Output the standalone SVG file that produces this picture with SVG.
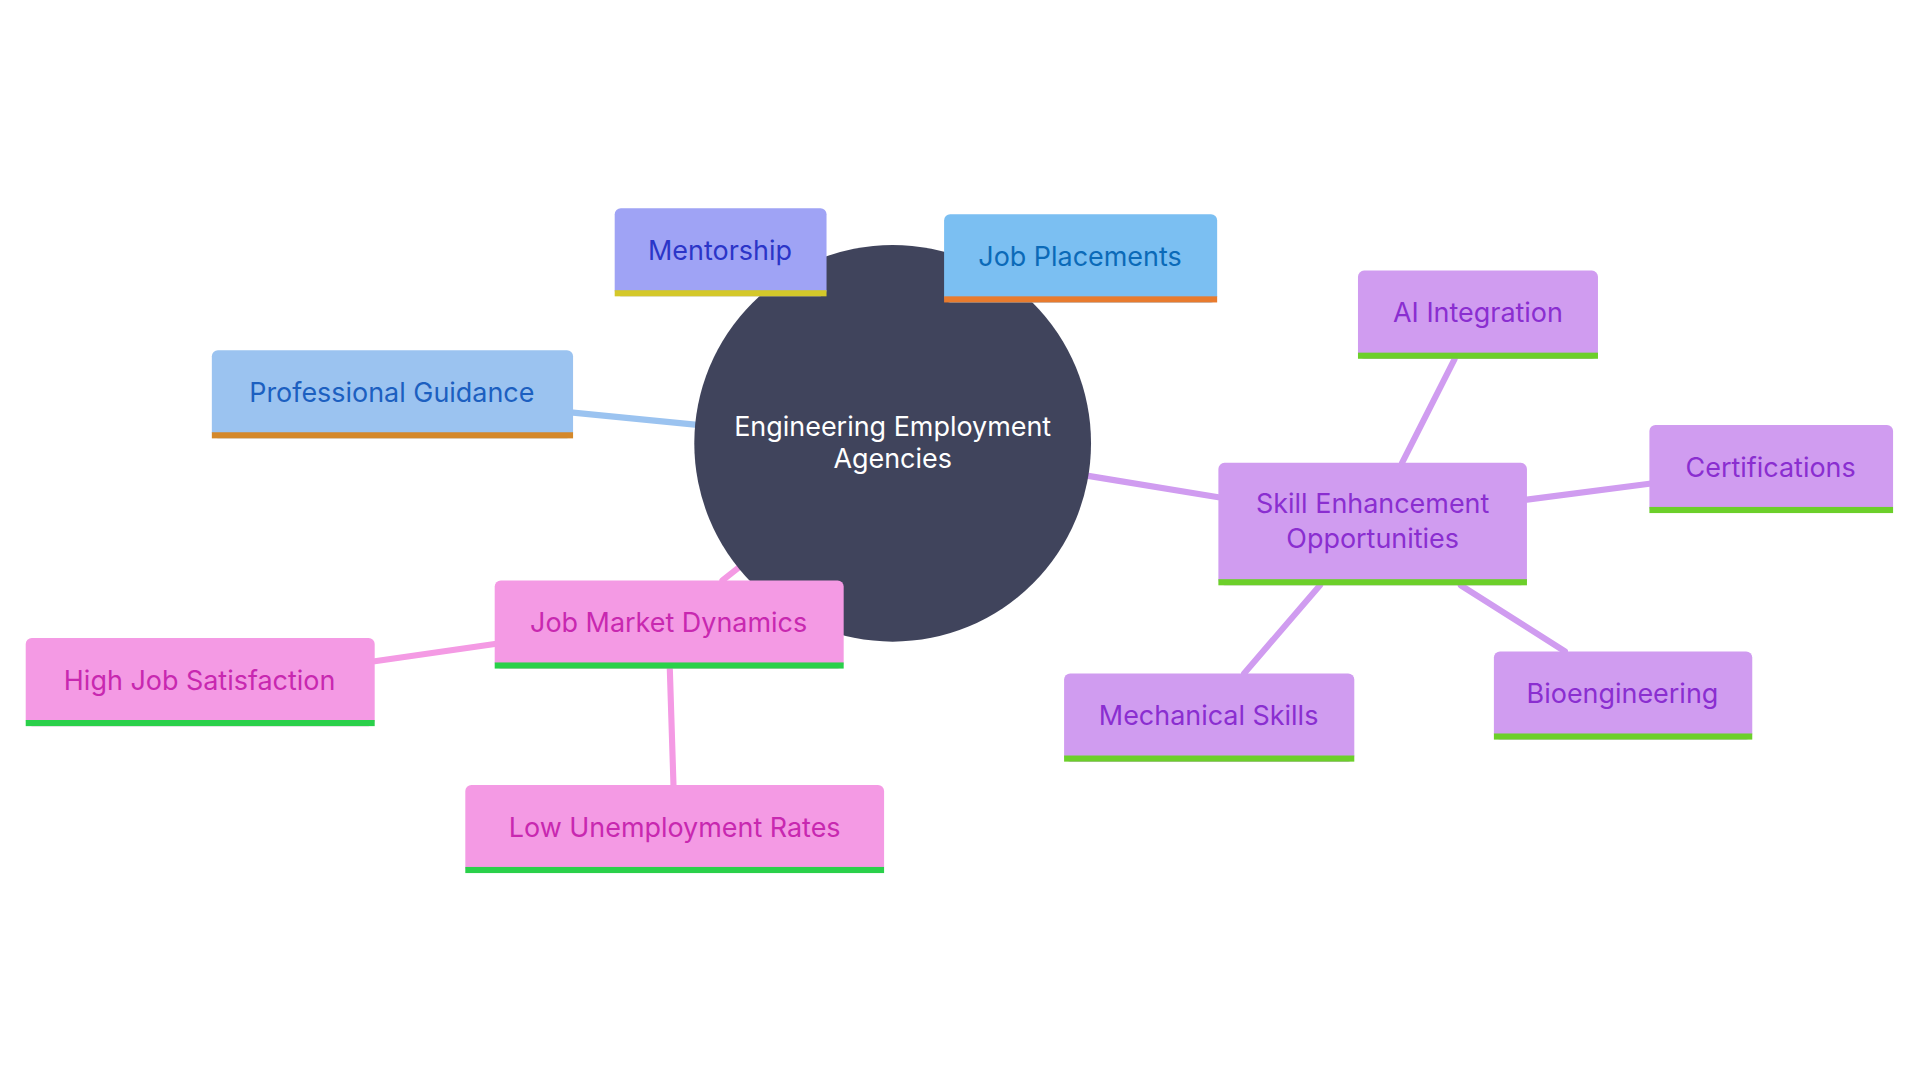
<svg xmlns="http://www.w3.org/2000/svg" width="1920" height="1080" viewBox="0 0 1920 1080">
<style>
text{font-family:Inter,"Noto Sans",sans-serif;font-size:22px;text-anchor:middle;dominant-baseline:central}
.e{fill:none;stroke-width:5;stroke-linecap:round}
.b{stroke:#9bc3f0}.p{stroke:#d09cf0}.k{stroke:#f49ae4}
</style>
<rect width="1920" height="1080" fill="#fff"/>
<g transform="scale(1.2245)">
<g id="connectors">
<line class="e b" x1="468" y1="337" x2="580" y2="348"/>
<line class="e k" x1="590" y1="474" x2="604" y2="463"/>
<line class="e p" x1="885" y1="388" x2="995" y2="406"/>
<line class="e p" x1="1145" y1="378" x2="1188" y2="293"/>
<line class="e p" x1="1247" y1="408" x2="1347" y2="395"/>
<line class="e p" x1="1193" y1="478" x2="1278" y2="532"/>
<line class="e p" x1="1078" y1="478" x2="1016" y2="550"/>
<line class="e k" x1="404" y1="526" x2="306" y2="540"/>
<line class="e k" x1="547" y1="546" x2="550" y2="641"/>
</g>
<g id="center"><circle cx="729" cy="362" r="162" fill="#40445c"/>
<text x="729" y="348" fill="#fff">Engineering Employment</text><text x="729" y="374" fill="#fff">Agencies</text></g>
<g id="mentorship"><rect x="502" y="170" width="173" height="72" rx="5" fill="#9fa3f5"/><rect x="502" y="237" width="173" height="5" fill="#d4c82a"/><text x="588" y="204" fill="#2b35c8">Mentorship</text></g>
<g id="jobplacements"><rect x="771" y="175" width="223" height="72" rx="5" fill="#7bbff2"/><rect x="771" y="242" width="223" height="5" fill="#e87b2e"/><text x="882" y="209" fill="#0b6ab8">Job Placements</text></g>
<g id="guidance"><rect x="173" y="286" width="295" height="72" rx="5" fill="#9bc3f0"/><rect x="173" y="353" width="295" height="5" fill="#d4882a"/><text x="320" y="320" fill="#1c5fc0">Professional Guidance</text></g>
<g id="skill"><rect x="995" y="378" width="252" height="100" rx="5" fill="#d09cf0"/><rect x="995" y="473" width="252" height="5" fill="#6ccf2a"/><text x="1121" y="411" fill="#8a2ed0">Skill Enhancement</text><text x="1121" y="439" fill="#8a2ed0">Opportunities</text></g>
<g id="ai"><rect x="1109" y="221" width="196" height="72" rx="5" fill="#d09cf0"/><rect x="1109" y="288" width="196" height="5" fill="#6ccf2a"/><text x="1207" y="255" fill="#8a2ed0">AI Integration</text></g>
<g id="cert"><rect x="1347" y="347" width="199" height="72" rx="5" fill="#d09cf0"/><rect x="1347" y="414" width="199" height="5" fill="#6ccf2a"/><text x="1446" y="381" fill="#8a2ed0">Certifications</text></g>
<g id="bio"><rect x="1220" y="532" width="211" height="72" rx="5" fill="#d09cf0"/><rect x="1220" y="599" width="211" height="5" fill="#6ccf2a"/><text x="1325" y="566" fill="#8a2ed0">Bioengineering</text></g>
<g id="mech"><rect x="869" y="550" width="237" height="72" rx="5" fill="#d09cf0"/><rect x="869" y="617" width="237" height="5" fill="#6ccf2a"/><text x="987" y="584" fill="#8a2ed0">Mechanical Skills</text></g>
<g id="market"><rect x="404" y="474" width="285" height="72" rx="5" fill="#f49ae4"/><rect x="404" y="541" width="285" height="5" fill="#2ad04a"/><text x="546" y="508" fill="#c828b0">Job Market Dynamics</text></g>
<g id="satisfaction"><rect x="21" y="521" width="285" height="72" rx="5" fill="#f49ae4"/><rect x="21" y="588" width="285" height="5" fill="#2ad04a"/><text x="163" y="555" fill="#c828b0">High Job Satisfaction</text></g>
<g id="unemployment"><rect x="380" y="641" width="342" height="72" rx="5" fill="#f49ae4"/><rect x="380" y="708" width="342" height="5" fill="#2ad04a"/><text x="551" y="675" fill="#c828b0">Low Unemployment Rates</text></g>
</g>
</svg>
